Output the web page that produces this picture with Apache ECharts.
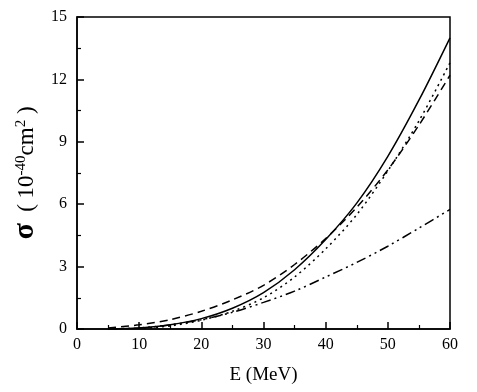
<!DOCTYPE html>
<html>
<head>
<meta charset="utf-8">
<script src="https://cdn.jsdelivr.net/npm/echarts@6/dist/echarts.min.js"></script>
<style>html,body{margin:0;padding:0;background:#fff}#chart{width:477px;height:392px}</style>
</head>
<body>
<div id="chart"></div>
<script>
// energies (MeV) and cross sections (10^-40 cm^2)
const energy = [5, 10, 15, 20, 25, 30, 35, 40, 45, 50, 55, 60]
const solid = [0.0, 0.05, 0.2, 0.5, 1.0, 1.75, 2.85, 4.3, 6.05, 8.3, 11.0, 14.0]
const dashed = [0.05, 0.2, 0.45, 0.85, 1.4, 2.1, 3.1, 4.35, 5.85, 7.65, 9.8, 12.2]
const dotted = [0.0, 0.03, 0.15, 0.42, 0.85, 1.5, 2.5, 3.85, 5.5, 7.6, 10.0, 12.8]
const dashDot = [0.0, 0.05, 0.2, 0.45, 0.8, 1.28, 1.82, 2.5, 3.2, 3.98, 4.85, 5.75]

const chart = echarts.init(document.getElementById('chart'))
const font = 'Liberation Serif'
const mk = (vals, type) => ({
  type: 'line', data: energy.map((e, i) => [e, vals[i]]), smooth: 0.3, showSymbol: false,
  lineStyle: { color: '#000', width: 1.5, type }, silent: true, animation: false,
})

chart.setOption({
  grid: { left: 77, right: 27, top: 17, bottom: 63, show: true, borderColor: '#000', borderWidth: 1.5 },
  xAxis: {
    type: 'value', min: 0, max: 60, interval: 10,
    name: 'E (MeV)', nameLocation: 'middle', nameGap: 37,
    nameTextStyle: { fontFamily: font, fontSize: 19, color: '#000' },
    axisLine: { lineStyle: { color: '#000', width: 1.5 } },
    axisTick: { inside: true, length: 7, lineStyle: { color: '#000', width: 1.5 } },
    minorTick: { show: true, splitNumber: 2, length: 4, lineStyle: { color: '#000', width: 1.2 } },
    axisLabel: { fontFamily: font, fontSize: 16, color: '#000', margin: 8 },
    splitLine: { show: false },
  },
  yAxis: {
    type: 'value', min: 0, max: 15, interval: 3,
    name: '{s|σ}{t|  ( 10}{sup|-40}{t|cm}{sup|2}{t| )}', nameLocation: 'middle', nameGap: 33, nameRotate: 90,
    nameTextStyle: {
      fontFamily: font, color: '#000',
      rich: {
        s: { fontFamily: font, fontSize: 30, fontWeight: 'bold', color: '#000', verticalAlign: 'bottom' },
        t: { fontFamily: font, fontSize: 23, color: '#000', verticalAlign: 'bottom', padding: [0, 0, 2, 0] },
        sup: { fontFamily: font, fontSize: 15, color: '#000', verticalAlign: 'bottom', padding: [0, 0, 12, 0] },
      },
    },
    axisLine: { lineStyle: { color: '#000', width: 1.5 } },
    axisTick: { inside: true, length: 7, lineStyle: { color: '#000', width: 1.5 } },
    minorTick: { show: true, splitNumber: 2, length: 4, lineStyle: { color: '#000', width: 1.2 } },
    axisLabel: { fontFamily: font, fontSize: 16, color: '#000', margin: 10 },
    splitLine: { show: false },
  },
  series: [
    mk(solid, 'solid'),
    mk(dashed, [8, 5]),
    mk(dotted, [2, 4]),
    mk(dashDot, [10, 4, 2, 4, 2, 4]),
  ],
})
</script>
</body>
</html>
